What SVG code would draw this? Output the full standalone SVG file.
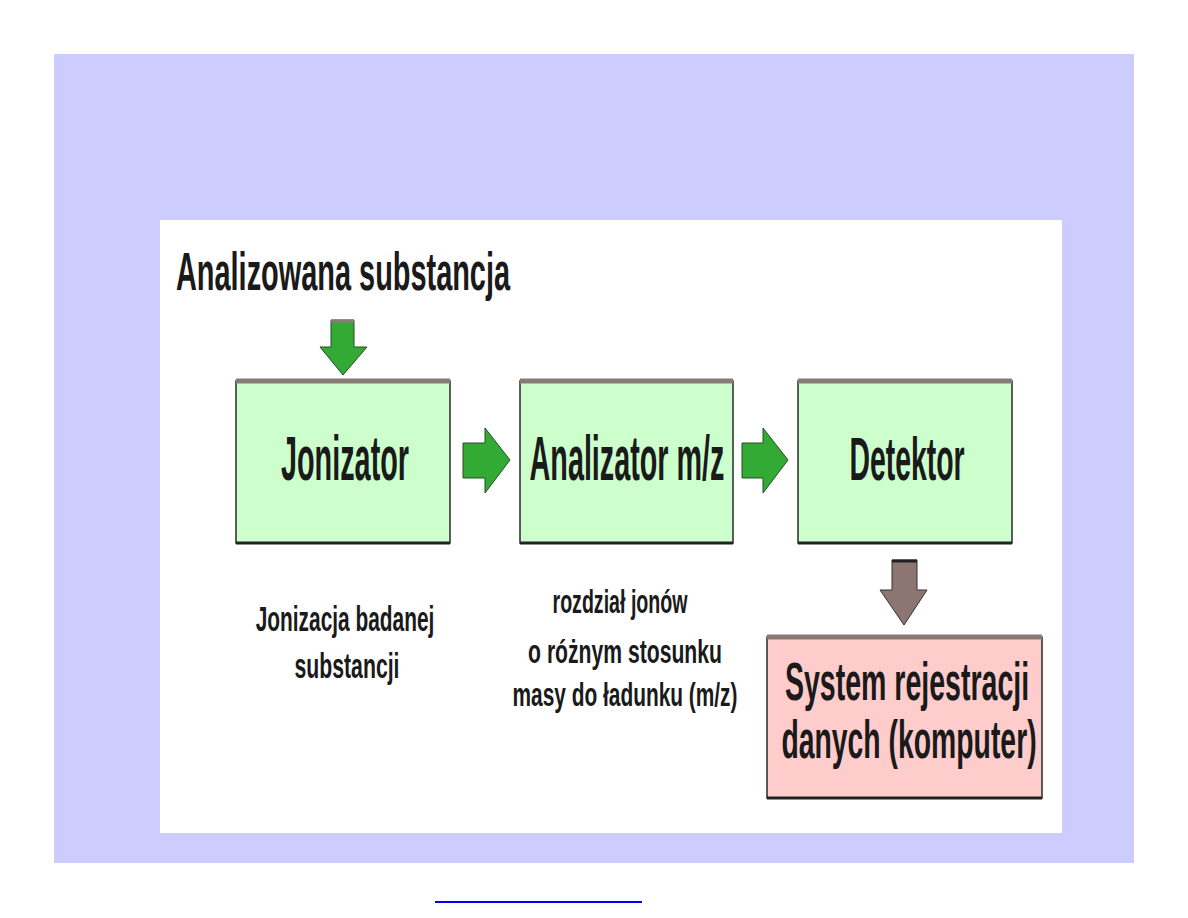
<svg xmlns="http://www.w3.org/2000/svg" width="1188" height="918" viewBox="0 0 1188 918">
<style>
.t{font-family:"Liberation Sans",Arial,sans-serif;font-weight:bold;fill:#1a1a1a;text-anchor:middle}
.box{stroke:#2a2a2a;stroke-width:1.5}
.g{fill:#ccffcc}
.p{fill:#ffcccc}
.top{stroke:#8a7a76;stroke-width:5}
.bot{stroke:#222;stroke-width:3}
.ga{fill:#33aa33;stroke:#2a4a2a;stroke-width:1}
.ba{fill:#8c7674;stroke:#3a3030;stroke-width:1}
</style>
<rect x="0" y="0" width="1188" height="918" fill="#ffffff"/>
<rect x="54" y="54" width="1080" height="809" fill="#ccccff"/>
<rect x="160" y="220" width="902" height="613" fill="#ffffff"/>
<line x1="435" y1="902" x2="642" y2="902" stroke="#0000ff" stroke-width="2"/>

<g id="source">
<text class="t" transform="translate(343,290) scale(0.545,1)" font-size="53" textLength="613" lengthAdjust="spacingAndGlyphs">Analizowana substancja</text>
</g>

<g id="jonizator">
<rect class="box g" x="236" y="381" width="214" height="162"/>
<line class="top" x1="236" y1="381" x2="450" y2="381"/>
<line class="bot" x1="236" y1="543" x2="450" y2="543"/>
<text class="t" transform="translate(345,480) scale(0.464,1)" font-size="62" textLength="276" lengthAdjust="spacingAndGlyphs">Jonizator</text>
</g>

<g id="analizator">
<rect class="box g" x="520" y="381" width="213" height="162"/>
<line class="top" x1="520" y1="381" x2="733" y2="381"/>
<line class="bot" x1="520" y1="543" x2="733" y2="543"/>
<text class="t" transform="translate(627,480) scale(0.464,1)" font-size="62" textLength="420" lengthAdjust="spacingAndGlyphs">Analizator m/z</text>
</g>

<g id="detektor">
<rect class="box g" x="798" y="381" width="214" height="162"/>
<line class="top" x1="798" y1="381" x2="1012" y2="381"/>
<line class="bot" x1="798" y1="543" x2="1012" y2="543"/>
<text class="t" transform="translate(907,480) scale(0.457,1)" font-size="62" textLength="252" lengthAdjust="spacingAndGlyphs">Detektor</text>
</g>

<g id="system">
<rect class="box p" x="767" y="637" width="275" height="161"/>
<line class="top" x1="767" y1="637" x2="1042" y2="637"/>
<line class="bot" x1="767" y1="798" x2="1042" y2="798"/>
<text class="t" transform="translate(907,700) scale(0.538,1)" font-size="53" textLength="454" lengthAdjust="spacingAndGlyphs">System rejestracji</text>
<text class="t" transform="translate(909,758) scale(0.535,1)" font-size="53" textLength="477" lengthAdjust="spacingAndGlyphs">danych (komputer)</text>
</g>

<g id="label-jonizacja">
<text class="t" transform="translate(345,631) scale(0.58,1)" font-size="36" textLength="308" lengthAdjust="spacingAndGlyphs">Jonizacja badanej</text>
<text class="t" transform="translate(347,678) scale(0.59,1)" font-size="36" textLength="178" lengthAdjust="spacingAndGlyphs">substancji</text>
</g>

<g id="label-rozdzial">
<text class="t" transform="translate(620,613) scale(0.6,1)" font-size="33" textLength="225" lengthAdjust="spacingAndGlyphs">rozdział jonów</text>
<text class="t" transform="translate(625,663) scale(0.6,1)" font-size="33" textLength="323" lengthAdjust="spacingAndGlyphs">o różnym stosunku</text>
<text class="t" transform="translate(625,706) scale(0.6,1)" font-size="33" textLength="375" lengthAdjust="spacingAndGlyphs">masy do ładunku (m/z)</text>
</g>

<g id="connectors">
<polygon class="ga" points="331,320 354,320 354,347 367,347 343,375 320,347 331,347"/>
<polygon class="ga" points="463,443 485,443 485,428 510,460 485,493 485,478 463,478"/>
<polygon class="ga" points="742,443 763,443 763,428 788,460 763,493 763,478 742,478"/>
<polygon class="ba" points="892,560 917,560 917,590 927,590 904,625 880,590 892,590"/>
<line x1="892" y1="561" x2="917" y2="561" stroke="#222" stroke-width="3"/>
<line x1="331" y1="321" x2="354" y2="321" stroke="#8a7a76" stroke-width="3"/>
</g>
</svg>
